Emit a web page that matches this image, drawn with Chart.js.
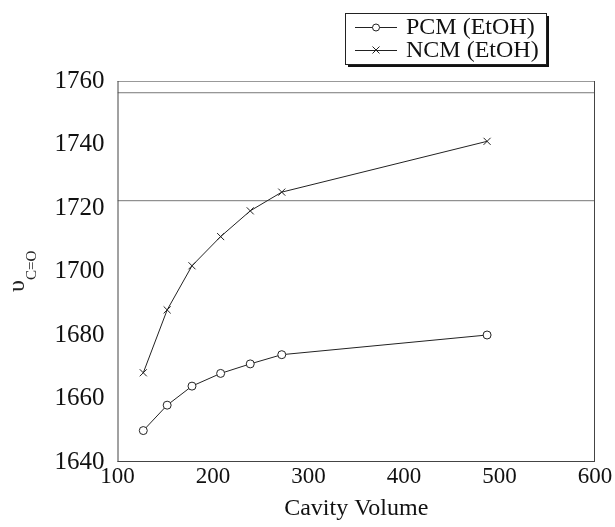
<!DOCTYPE html>
<html><head><meta charset="utf-8">
<script src="https://cdn.jsdelivr.net/npm/chart.js@4"></script>
<style>html,body{margin:0;padding:0;background:#fff}#w{width:615px;height:527px}</style>
</head><body><div id="w"><canvas id="c"></canvas></div>
<script>
const cavityVolume = [127, 152, 178, 208, 239, 272, 487];
const pcmEtOH = [1649.9, 1657.9, 1663.9, 1667.9, 1670.9, 1673.8, 1680.0];
const ncmEtOH = [1668.1, 1687.9, 1701.8, 1711.0, 1719.1, 1725.0, 1741.0];
const refLines = [1722.3, 1756.3];
const xTicks = [100, 200, 300, 400, 500, 600];
const yTicks = [1640, 1660, 1680, 1700, 1720, 1740, 1760];
const seriesNames = ['PCM (EtOH)', 'NCM (EtOH)'];
const xTitle = 'Cavity Volume';

const FONT = "'Liberation Serif', 'Times New Roman', serif";
const toPts = ys => cavityVolume.map((x, i) => ({x, y: ys[i]}));

const datasets = [
  {label: seriesNames[0], data: toPts(pcmEtOH), borderColor: '#222', borderWidth: 1,
   pointStyle: 'circle', pointRadius: 4, pointBackgroundColor: '#fff', pointBorderColor: '#222', pointBorderWidth: 1},
  {label: seriesNames[1], data: toPts(ncmEtOH), borderColor: '#222', borderWidth: 1,
   pointStyle: 'crossRot', pointRadius: 5, pointBorderColor: '#222', pointBorderWidth: 1},
];
refLines.forEach(v => datasets.push({label: 'ref', data: [{x: xTicks[0], y: v}, {x: xTicks[xTicks.length-1], y: v}],
  borderColor: '#777', borderWidth: 1, pointRadius: 0}));

const decor = {
  id: 'decor',
  afterDraw(chart) {
    const {ctx, chartArea: a} = chart;
    ctx.save();
    ctx.lineWidth = 1;
    ctx.strokeStyle = '#999';
    ctx.beginPath(); ctx.moveTo(a.left, a.top + 0.5); ctx.lineTo(a.right, a.top + 0.5); ctx.stroke();
    ctx.strokeStyle = '#444';
    ctx.beginPath(); ctx.moveTo(a.right - 0.5, a.top); ctx.lineTo(a.right - 0.5, a.bottom); ctx.stroke();
    ctx.beginPath(); ctx.moveTo(a.left + 0.5, a.top); ctx.lineTo(a.left + 0.5, a.bottom); ctx.stroke();
    ctx.beginPath(); ctx.moveTo(a.left, a.bottom - 0.5); ctx.lineTo(a.right, a.bottom - 0.5); ctx.stroke();
    // y title
    ctx.fillStyle = '#222';
    ctx.translate(24, 280);
    ctx.rotate(-Math.PI / 2);
    ctx.textBaseline = 'alphabetic';
    ctx.textAlign = 'left';
    ctx.font = '24px ' + FONT;
    ctx.fillText('υ', -12, 0);
    ctx.font = '15px ' + FONT;
    ctx.fillText('C=O', 0, 12);
    ctx.setTransform(1, 0, 0, 1, 0, 0);
    // legend
    const bx = 345, by = 13, bw = 201, bh = 51;
    ctx.fillStyle = '#111';
    ctx.fillRect(bx + 3, by + 3, bw, bh);
    ctx.fillStyle = '#fff';
    ctx.fillRect(bx, by, bw, bh);
    ctx.strokeStyle = '#222'; ctx.lineWidth = 1;
    ctx.strokeRect(bx + 0.5, by + 0.5, bw, bh);
    ctx.font = '24px ' + FONT;
    ctx.textBaseline = 'middle';
    const rows = [27, 50];
    rows.forEach((ry, i) => {
      ctx.strokeStyle = '#222';
      ctx.beginPath(); ctx.moveTo(355, ry + 0.5); ctx.lineTo(397, ry + 0.5); ctx.stroke();
      if (i === 0) {
        ctx.fillStyle = '#fff';
        ctx.beginPath(); ctx.arc(376, ry + 0.5, 3.5, 0, Math.PI * 2); ctx.fill(); ctx.stroke();
      } else {
        ctx.beginPath();
        ctx.moveTo(372.5, ry - 3.5); ctx.lineTo(379.5, ry + 3.5);
        ctx.moveTo(379.5, ry - 3.5); ctx.lineTo(372.5, ry + 3.5); ctx.stroke();
      }
      ctx.fillStyle = '#111';
      ctx.fillText(seriesNames[i], 406, ry + 1);
    });
    ctx.restore();
  }
};

new Chart(document.getElementById('c'), {
  type: 'line',
  data: {datasets},
  plugins: [decor],
  options: {
    responsive: true, maintainAspectRatio: false, animation: false,
    layout: {padding: {left: 0, right: 20, top: 81, bottom: 0}},
    plugins: {legend: {display: false}, tooltip: {enabled: false}},
    scales: {
      x: {type: 'linear', min: xTicks[0], max: xTicks[xTicks.length-1],
        afterBuildTicks: s => { s.ticks = xTicks.map(v => ({value: v})); },
        grid: {display: false, drawTicks: false}, border: {display: false},
        ticks: {color: '#111', font: {family: FONT, size: 23}, padding: 1, maxRotation: 0,
          callback: v => String(v)},
        title: {display: true, text: xTitle, color: '#111', font: {family: FONT, size: 24}, padding: {top: 4}},
        afterFit: s => { s.height = 65; }},
      y: {type: 'linear', min: yTicks[0], max: yTicks[yTicks.length-1],
        afterBuildTicks: s => { s.ticks = yTicks.map(v => ({value: v})); },
        grid: {display: false, drawTicks: false}, border: {display: false},
        ticks: {color: '#111', font: {family: FONT, size: 25}, padding: 13, callback: v => String(v)},
        afterFit: s => { s.height = undefined; s.width = 117.5; }}
    }
  }
});
</script></body></html>
